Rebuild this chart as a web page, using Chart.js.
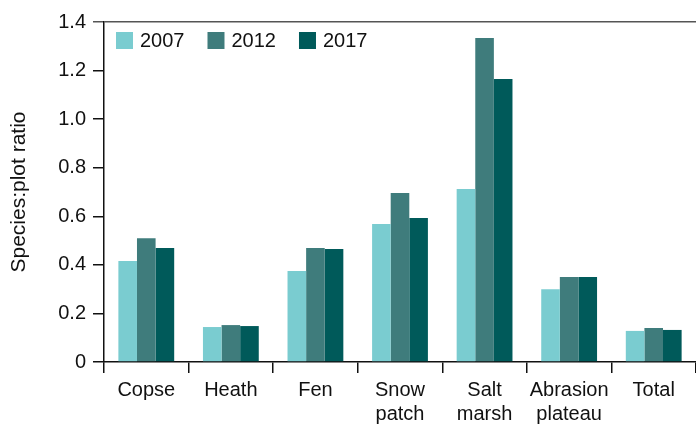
<!DOCTYPE html>
<html>
<head>
<meta charset="utf-8">
<script src="https://cdn.jsdelivr.net/npm/chart.js@4"></script>
<style>
	html, body { margin: 0; padding: 0; background: #fff; }
	#wrap { width: 696px; height: 427px; }
</style>
</head>
<body>
<div id="wrap"><canvas id="chart"></canvas></div>
<script>
(() => {
	'use strict'

	// Chart data
	const habitats = [['Copse'], ['Heath'], ['Fen'], ['Snow', 'patch'], ['Salt', 'marsh'], ['Abrasion', 'plateau'], ['Total']];
	const years = ['2007', '2012', '2017'];
	const values2007 = [0.416, 0.144, 0.375, 0.568, 0.712, 0.300, 0.128];
	const values2012 = [0.510, 0.152, 0.469, 0.696, 1.334, 0.350, 0.140];
	const values2017 = [0.469, 0.148, 0.465, 0.593, 1.165, 0.350, 0.132];
	const yTicks = [0, 0.2, 0.4, 0.6, 0.8, 1.0, 1.2, 1.4];

	const colors = ['#7accd0', '#3f7c7c', '#005a5a'];
	const fontFamily = '"Liberation Sans", Arial, sans-serif';

	Chart.defaults.font.family = fontFamily;
	Chart.defaults.font.size = 20;
	Chart.defaults.color = '#111';

	// Legend drawn inside the plot area, top left
	const insideLegend = {
		id: 'insideLegend',
		afterDraw(chart) {
			const ctx = chart.ctx;
			const area = chart.chartArea;
			let x = area.left + 12;
			const y = area.top + 10;
			ctx.save();
			ctx.font = '20px ' + fontFamily;
			ctx.textBaseline = 'middle';
			ctx.textAlign = 'left';
			chart.data.datasets.forEach(ds => {
				ctx.fillStyle = ds.backgroundColor;
				ctx.fillRect(x, y, 17, 17);
				ctx.fillStyle = '#111';
				ctx.fillText(ds.label, x + 24, y + 9);
				x += 24 + ctx.measureText(ds.label).width + 23;
			});
			ctx.restore();
		}
	};

	const config = {
		type: 'bar',
		data: {
			labels: habitats,
			datasets: [
				{ label: years[0], data: values2007, backgroundColor: colors[0] },
				{ label: years[1], data: values2012, backgroundColor: colors[1] },
				{ label: years[2], data: values2017, backgroundColor: colors[2] }
			]
		},
		options: {
			responsive: true,
			maintainAspectRatio: false,
			animation: false,
			categoryPercentage: 0.66,
			barPercentage: 1.0,
			layout: {
				padding: { top: 22, right: 0, left: 0, bottom: 0 }
			},
			scales: {
				x: {
					afterFit: scale => {
						scale.height = 65;
					},
					grid: {
						offset: true,
						drawOnChartArea: false,
						tickLength: 11,
						color: '#111',
						lineWidth: 1.5
					},
					border: { color: '#111', width: 1.5 },
					ticks: { padding: 5, maxRotation: 0, color: '#111' }
				},
				y: {
					min: 0,
					max: 1.4,
					afterBuildTicks: scale => {
						scale.ticks = yTicks.map(v => ({ value: v }));
					},
					afterFit: scale => {
						scale.width = 104;
					},
					grid: {
						drawOnChartArea: true,
						tickLength: 11,
						lineWidth: 1.5,
						// only the top value gets a line across (the grey frame top)
						color: ctx => ctx.tick && ctx.tick.value === 1.4 ? '#555' : 'rgba(0,0,0,0)',
						tickColor: ctx => ctx.tick && ctx.tick.value === 1.4 ? '#555' : '#111'
					},
					border: { color: '#111', width: 1.5 },
					ticks: {
						padding: 7,
						color: '#111',
						callback: v => v === 0 ? '0' : v.toFixed(1)
					},
					title: {
						display: true,
						text: 'Species:plot ratio',
						color: '#111',
						font: { size: 21 },
						padding: { top: 7, bottom: 4 }
					}
				}
			},
			plugins: {
				legend: { display: false },
				tooltip: { enabled: false }
			}
		},
		plugins: [insideLegend]
	};

	new Chart(document.getElementById('chart'), config);
})()
</script>
</body>
</html>
